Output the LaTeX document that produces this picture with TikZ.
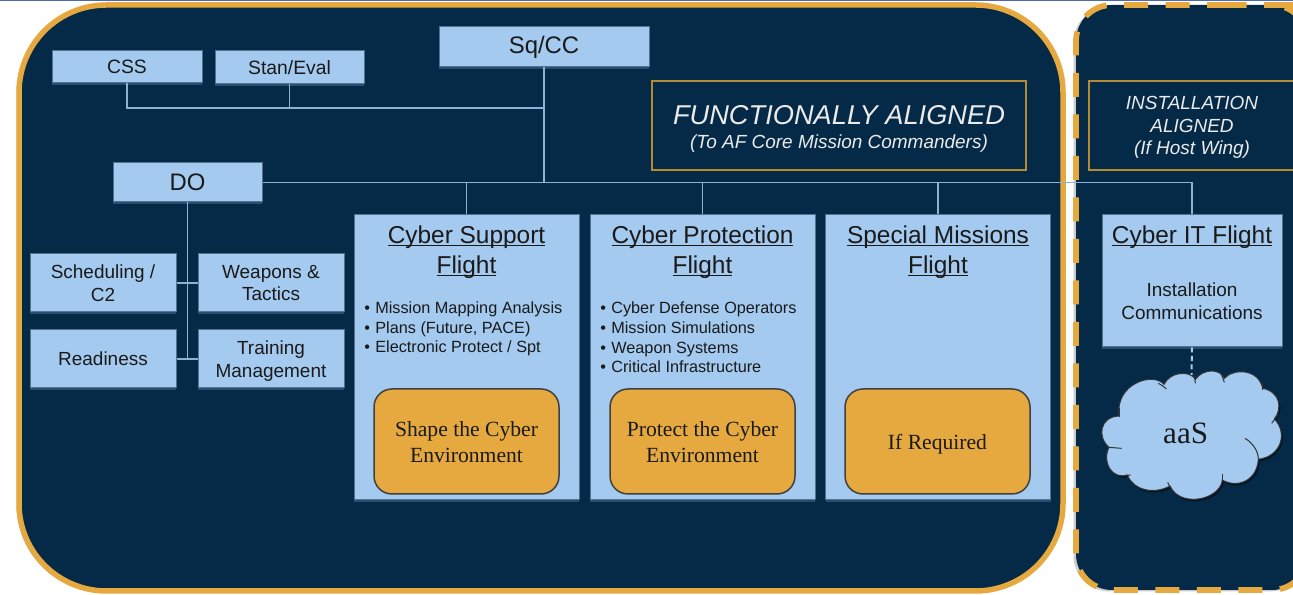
\documentclass[tikz,border=0pt]{standalone}
\usepackage{xcolor}
\usepackage{fontspec}
\setmainfont{Liberation Sans}
\newfontfamily\boxserif{Liberation Serif}
\usetikzlibrary{shadows}
\definecolor{navypanel}{HTML}{052A47}
\definecolor{goldline}{HTML}{E5A93F}
\definecolor{thingold}{HTML}{B58A35}
\definecolor{paleblue}{HTML}{A4CAF0}
\definecolor{wireblue}{HTML}{8DB2D6}
\definecolor{glowblue}{HTML}{41688C}
\definecolor{edgeblue}{HTML}{56718C}
\definecolor{topstripe}{HTML}{4A6BA8}
\definecolor{inktext}{HTML}{1A1A1A}
\newcommand{\bul}{\makebox[0.22cm][l]{\textbullet}}
\newcommand{\titleline}[1]{\underline{\smash{#1}}}
\begin{document}
\begin{tikzpicture}[every path/.style={>=latex},
    bluebox/.style={rectangle,draw=edgeblue,line width=0.02cm,fill=paleblue,text=inktext,align=center,inner sep=0pt,
        drop shadow={shadow xshift=0cm,shadow yshift=-0.05cm,fill=glowblue,opacity=0.6}},
    smallbox/.style={bluebox,minimum width=2.92cm,minimum height=1.16cm,font=\fontsize{10.8}{13}\selectfont},
    flightbox/.style={bluebox,minimum width=4.5cm,minimum height=5.7cm},
    flighttitle/.style={text=inktext,align=center,inner sep=0pt,font=\fontsize{13.9}{17}\selectfont},
    bulletlist/.style={text=inktext,align=left,anchor=west,inner sep=0pt,font=\fontsize{9.25}{11.2}\selectfont},
    amberbox/.style={rectangle,rounded corners=0.36cm,draw=black!75,line width=0.03cm,fill=goldline,text=inktext,align=center,
        minimum width=3.7cm,minimum height=2.1cm,font=\boxserif\fontsize{12.3}{14.7}\selectfont},
    alignbox/.style={rectangle,draw=thingold,line width=0.025cm,text=white!92!black,align=center,inner sep=0pt,minimum height=1.78cm},
    wire/.style={draw=wireblue,line width=0.03cm},
    cloudcrease/.style={draw=black!80,line width=0.02cm}]
    \useasboundingbox (0,0) rectangle (25.86,11.9);
    \clip (0,0) rectangle (25.86,11.9);
    \fill[topstripe] (0,11.87) rectangle (25.86,11.9);
    \path[draw=goldline,fill=navypanel,line width=0.11cm,rounded corners=1.75cm,
        drop shadow={shadow xshift=-0.05cm,shadow yshift=-0.03cm,fill=black,opacity=0.3}]
        (0.38,0.08) rectangle (21.26,11.8);
    \path[draw=goldline,fill=navypanel,line width=0.115cm,rounded corners=0.72cm,dash pattern=on 0.48cm off 0.35cm,
        drop shadow={shadow xshift=-0.05cm,shadow yshift=-0.03cm,fill=black,opacity=0.2}]
        (25.34,11.8) -- (21.52,11.8) -- (21.52,0.1) -- (26.16,0.1) -- (26.16,11.8) -- cycle;
    \node[bluebox,minimum width=4.2cm,minimum height=0.8cm,font=\fontsize{13.6}{16}\selectfont] (sqcc) at (10.88,10.96) {Sq/CC};
    \node[bluebox,minimum width=3cm,minimum height=0.64cm,font=\fontsize{11}{13}\selectfont] (css) at (2.54,10.56) {CSS};
    \node[bluebox,minimum width=2.98cm,minimum height=0.66cm,font=\fontsize{11}{13}\selectfont] (staneval) at (5.79,10.55) {Stan/Eval};
    \node[bluebox,minimum width=2.98cm,minimum height=0.78cm,font=\fontsize{13.6}{16}\selectfont] (do) at (3.75,8.25) {DO};
    \node[smallbox] (sched) at (2.06,6.24) {Scheduling /\\C2};
    \node[smallbox] (weapons) at (5.42,6.24) {Weapons \&\\Tactics};
    \node[smallbox] (readiness) at (2.06,4.72) {Readiness};
    \node[smallbox] (training) at (5.42,4.72) {\rule{0pt}{0.35cm}Training\\Management};
    \node[flightbox] (support) at (9.33,4.75) {};
    \node[flightbox] (protection) at (14.05,4.75) {};
    \node[flightbox] (special) at (18.76,4.75) {};
    \node[bluebox,minimum width=3.6cm,minimum height=2.64cm] (cyberit) at (23.84,6.28) {};
    \node[flighttitle] (supporttitle) at (9.33,6.7) {\titleline{Cyber Support}\\\titleline{Flight}};
    \node[flighttitle] (protectiontitle) at (14.05,6.7) {\titleline{Cyber Protection}\\\titleline{Flight}};
    \node[flighttitle] (specialtitle) at (18.76,6.7) {\titleline{Special Missions}\\\titleline{Flight}};
    \node[flighttitle] (cyberittitle) at (23.84,7) {\titleline{Cyber IT Flight}};
    \node[text=inktext,align=center,inner sep=0pt,font=\fontsize{10.8}{13}\selectfont] (cyberittext) at (23.84,5.87) {Installation\\Communications};
    \node[bulletlist] (supportlist) at (7.28,5.32) {\bul Mission Mapping Analysis\\\bul Plans (Future, PACE)\\\bul Electronic Protect / Spt};
    \node[bulletlist] (protectionlist) at (12,5.15) {\bul Cyber Defense Operators\\\bul Mission Simulations\\\bul Weapon Systems\\\bul Critical Infrastructure};
    \node[amberbox] (shape) at (9.33,3.07) {\rule{0pt}{0.33cm}Shape the Cyber\\Environment};
    \node[amberbox] (protect) at (14.05,3.07) {\rule{0pt}{0.33cm}Protect the Cyber\\Environment};
    \node[amberbox] (ifreq) at (18.75,3.07) {\rule{0pt}{0.41cm}If Required};
    \node[alignbox,minimum width=7.48cm] (functional) at (16.78,9.39) {\rule{0pt}{0.51cm}{\fontsize{15.5}{18}\selectfont\itshape FUNCTIONALLY ALIGNED}\\[0.06cm]{\fontsize{10.8}{13}\selectfont\itshape (To AF Core Mission Commanders)}};
    \node[alignbox,minimum width=4.12cm,font=\fontsize{10.8}{13}\selectfont\itshape] (installation) at (23.84,9.39) {\rule{0pt}{0.34cm}INSTALLATION\\ALIGNED\\(If Host Wing)};
    \begin{scope}[shift={(20.8,5.1)},x=0.00667cm,y=-0.00667cm]
        \path[draw=black!80,line width=0.02cm,fill=paleblue,
            drop shadow={shadow xshift=0.03cm,shadow yshift=-0.04cm,fill=black,opacity=0.5}]
            (237,228) .. controls (225,130) and (340,95) .. (372,133)
            .. controls (390,95) and (450,90) .. (466,118)
            .. controls (490,85) and (540,85) .. (553,115)
            .. controls (580,85) and (655,85) .. (668,145)
            .. controls (720,155) and (728,205) .. (703,237)
            .. controls (745,280) and (722,350) .. (655,358)
            .. controls (650,425) and (590,445) .. (547,420)
            .. controls (540,480) and (420,505) .. (390,438)
            .. controls (340,465) and (280,450) .. (262,405)
            .. controls (215,420) and (185,365) .. (207,322)
            .. controls (170,290) and (180,230) .. (237,228);
        \draw[cloudcrease] (355,130) .. controls (365,135) and (372,140) .. (379,147);
        \draw[cloudcrease] (463,105) -- (466,130);
        \draw[cloudcrease] (545,105) -- (553,127);
        \draw[cloudcrease] (668,130) -- (668,150);
        \draw[cloudcrease] (715,222) -- (695,250);
        \draw[cloudcrease] (615,295) .. controls (640,310) and (655,335) .. (655,358);
        \draw[cloudcrease] (547,403) -- (547,425);
        \draw[cloudcrease] (383,427) -- (392,445);
        \draw[cloudcrease] (245,408) -- (272,405);
        \draw[cloudcrease] (207,322) -- (245,325);
        \draw[cloudcrease] (237,205) -- (237,232);
        \node[text=inktext,inner sep=0pt,font=\boxserif\fontsize{17.7}{20}\selectfont] (aascloud) at (437,280) {aaS};
        \coordinate (cloudtop) at (455,105);
    \end{scope}
    \coordinate (toprow) at (10.88,9.74);
    \coordinate (doline) at (10.88,8.25);
    \draw[wire] (css) |- (toprow);
    \draw[wire] (staneval) |- (toprow);
    \draw[wire] (sqcc) -- (doline);
    \draw[wire] (do) -| (cyberit);
    \draw[wire] (support) -- (support |- do);
    \draw[wire] (protection) -- (protection |- do);
    \draw[wire] (special) -- (special |- do);
    \draw[wire] (do) -- (do |- readiness);
    \draw[wire] (sched) -- (weapons);
    \draw[wire] (readiness) -- (training);
    \draw[draw=paleblue,line width=0.04cm,dash pattern=on 0.1cm off 0.07cm] (cyberit) -- (cloudtop);
\end{tikzpicture}
\end{document}
